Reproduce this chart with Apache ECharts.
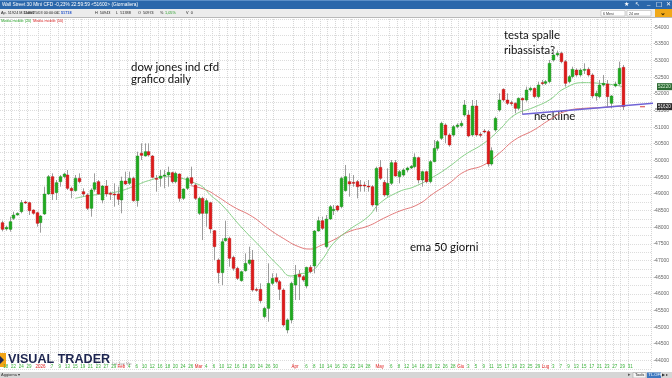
<!DOCTYPE html>
<html>
<head>
<meta charset="utf-8">
<title>Wall Street 30 Mini CFD</title>
<style>
  html, body { margin: 0; padding: 0; background: #fff; }
  #chart { width: 672px; height: 378px; }
</style>
<script src="https://cdn.jsdelivr.net/npm/echarts@6/dist/echarts.min.js"></script>
</head>
<body>
<div id="chart"></div>
<script>
// tick labels of the date axis, one per bar ('' = no label)
const decDays = ['17', '18', '19', '22', '23', '24', '26', '29', '30', '31']
const janDays = ['2026', '5', '6', '7', '8', '9', '12', '13', '14', '15', '16', '19', '20', '21', '22', '23', '26', '27', '28', '29', '30']
const febDays = ['Feb', '3', '4', '5', '6', '9', '10', '11', '12', '13', '16', '17', '18', '19', '20', '23', '24', '25', '26', '27']
const marDays = ['Mar', '3', '4', '5', '6', '9', '10', '11', '12', '13', '16', '17', '18', '19', '20', '23', '24', '25', '26', '27', '30', '31', '', '', '']
const aprDays = ['Apr', '2', '3', '6', '7', '8', '9', '10', '13', '14', '15', '16', '17', '20', '21', '22', '23', '24', '27', '28', '29', '30']
const mayDays = ['May', '4', '5', '6', '7', '8', '11', '12', '13', '14', '15', '18', '19', '20', '21', '22', '25', '26', '27', '28', '29']
const junDays = ['Giu', '2', '3', '4', '5', '8', '9', '10', '11', '12', '15', '16', '17', '18', '19', '22', '23', '24', '25', '26', '29', '30']
const julDays = ['Lug', '2', '3', '6', '7', '8', '9', '10', '13', '14', '15', '16', '17', '20', '21', '22', '23', '24', '27', '28', '29', '30', '31', '', '', '', '', '']
const monthNames = ['2026', 'Feb', 'Mar', 'Apr', 'May', 'Giu', 'Lug']

// daily bars: [open, close, low, high]
const candles = [
  [48140, 47940, 47880, 48200], [47950, 48000, 47900, 48050], [47940, 48170, 47870, 48320], [48270, 48370, 48220, 48470],
  [48370, 48420, 48350, 48450], [48470, 48740, 48420, 48820], [48760, 48740, 48700, 48800], [48740, 48500, 48370, 48770],
  [48520, 48420, 48380, 48540], [48440, 48120, 48020, 48470], [48140, 48340, 47840, 48370], [48400, 49000, 48370, 49220],
  [49000, 49520, 48970, 49570], [49520, 49000, 48820, 49620], [49040, 49340, 48820, 49420], [49370, 49520, 49220, 49570],
  [49520, 49600, 49470, 49640], [49570, 49170, 49120, 49720], [49170, 49100, 48870, 49220], [49100, 49470, 49070, 49570],
  [49470, 49370, 49320, 49620], [49070, 49000, 48920, 49170], [48970, 48570, 48520, 49020], [48570, 49120, 48320, 49170],
  [49140, 49340, 49070, 49620], [49370, 49000, 48970, 49420], [48820, 49240, 48720, 49270], [49240, 49000, 48920, 49420],
  [49020, 49000, 48820, 49070], [49000, 48970, 48620, 49320], [49000, 48840, 48670, 49220], [48820, 49390, 48420, 49520],
  [49390, 49300, 49270, 49670], [49320, 49470, 49270, 49670], [49470, 48800, 48770, 49520], [48800, 50140, 48620, 50270],
  [50220, 50160, 50020, 50520], [50140, 50270, 50120, 50520], [50270, 50170, 50120, 50520], [50140, 49500, 49470, 50170],
  [49470, 49440, 49070, 49570], [49470, 49540, 49220, 49720], [49540, 49570, 49170, 49720], [49570, 49650, 49220, 49820],
  [49640, 49370, 49320, 49670], [49370, 49620, 49320, 49670], [49600, 48870, 48770, 49620], [48870, 49150, 48820, 49170],
  [49170, 49470, 49120, 49520], [49490, 49320, 49270, 49820], [49270, 48870, 48820, 49320], [48420, 48870, 48370, 48920],
  [48870, 48420, 47620, 48920], [48420, 48800, 48020, 48870], [48740, 47950, 47820, 48770], [47900, 47420, 47020, 47920],
  [47020, 46640, 46320, 47070], [46640, 47570, 46270, 47670], [47600, 47670, 47570, 48200], [47670, 47070, 46820, 47720],
  [47100, 46770, 46700, 47150], [46770, 46470, 46420, 46820], [46400, 46670, 46370, 46700], [46700, 46920, 46670, 47220],
  [46920, 47020, 46870, 47420], [47020, 46120, 46070, 47320], [46140, 46120, 46070, 46200], [46140, 45800, 45720, 46320],
  [45320, 45570, 45270, 45620], [45570, 46320, 45170, 46920], [46320, 46470, 46270, 46620], [46490, 46370, 46320, 46620],
  [46370, 46140, 45820, 46420], [46120, 45070, 45020, 46170], [44920, 45220, 44820, 45270], [45220, 46320, 45120, 46370],
  [46270, 46570, 45820, 46870], [46590, 46520, 45820, 46720], [46520, 46420, 46370, 46570], [46240, 46800, 46170, 46820],
  [46800, 46670, 46620, 46870], [46840, 47890, 46620, 47920], [47890, 48200, 47870, 48320], [48200, 47970, 47920, 48320],
  [47420, 48250, 47370, 48370], [48250, 48620, 48220, 48670], [48500, 48540, 48370, 48670], [48640, 48520, 48470, 48670],
  [48620, 49470, 48570, 49520], [49100, 49520, 49070, 49870], [49370, 49300, 48920, 49620], [49350, 49330, 49220, 49570],
  [49370, 49220, 48870, 49420], [49270, 49250, 49070, 49420], [49270, 49260, 49070, 49370], [49240, 49230, 49070, 49420],
  [49220, 48670, 48620, 49270], [48670, 49770, 48470, 49820], [49800, 49470, 49420, 50020], [49350, 48970, 48920, 49420],
  [48970, 49320, 48920, 49770], [49320, 49940, 49270, 50020], [49940, 49540, 49520, 50020], [49520, 49670, 49320, 49720],
  [49570, 49720, 49520, 49770], [49720, 49780, 49650, 49820], [49780, 49830, 49750, 49870], [49820, 50100, 49770, 50220],
  [50090, 49420, 49320, 50120], [49420, 49670, 49220, 49700], [49670, 49370, 49320, 49700], [49370, 49970, 49320, 50020],
  [49970, 50370, 49950, 50620], [50370, 50570, 50300, 50620], [50670, 51120, 50620, 51170], [51070, 50770, 50520, 51120],
  [50770, 50470, 50420, 50820], [50770, 51020, 50720, 51070], [51020, 51070, 50970, 51120], [51050, 51120, 51000, 51200],
  [51370, 51670, 51320, 51820], [51370, 50740, 50700, 51520], [50770, 51640, 50720, 51820], [51640, 50770, 50720, 51820],
  [50790, 50770, 50700, 50850], [50890, 50870, 50820, 50950], [50870, 49900, 49820, 50920], [49900, 50300, 49850, 50400],
  [50920, 51270, 50870, 51320], [51520, 51820, 51470, 52020], [52140, 51820, 51770, 52170], [51820, 51720, 51670, 52020],
  [51740, 51730, 51650, 51800], [51720, 51570, 51420, 51750], [51570, 51870, 51520, 51900], [51870, 51820, 51390, 51900],
  [51820, 52120, 51770, 52220], [52120, 52170, 52070, 52220], [52170, 51920, 51870, 52200], [51920, 52270, 51870, 52370],
  [52340, 52320, 52270, 52420], [52320, 52370, 52270, 52420], [52370, 52920, 52320, 53020], [53020, 53170, 52970, 53370],
  [53170, 53220, 53120, 53300], [53220, 52970, 52920, 53270], [52970, 52320, 52220, 53020], [52370, 52520, 52320, 52570],
  [52520, 52740, 52470, 52820], [52720, 52570, 52520, 52770], [52570, 52720, 52520, 52770], [52720, 52740, 52600, 52920],
  [52740, 52570, 52520, 52800], [52570, 51940, 51870, 52620], [51940, 52020, 51800, 52100], [51920, 52270, 51870, 52420],
  [52270, 52320, 52220, 52570], [52300, 51920, 51620, 52420], [51720, 51940, 51570, 51970], [52240, 52300, 52200, 52370],
  [52300, 52770, 52250, 52970], [52800, 51620, 51520, 52870]
]

// moving averages: [bar index, value]
const ma20 = [
  [19, 48870], [22, 48940], [26, 49000], [30, 49070], [34, 49220], [38, 49400], [43, 49520], [47, 49460],
  [50, 49330], [52, 49220], [54, 48980], [57, 48680], [62, 48020], [67, 47420], [72, 46820], [75, 46540],
  [77, 46600], [80, 46670], [83, 47020], [86, 47520], [90, 47920], [95, 48320], [98, 48720], [103, 49070],
  [107, 49220], [112, 49520], [116, 49820], [120, 50170], [125, 50520], [129, 50920], [133, 51370], [138, 51600],
  [142, 51820], [146, 52170], [151, 52340], [155, 52320], [159, 52270], [161, 52220]
]
const ma50 = [
  [49, 49250], [53, 49120], [56, 48920], [60, 48620], [65, 48320], [69, 47970], [73, 47670], [77, 47420],
  [80, 47350], [83, 47470], [86, 47620], [90, 47870], [95, 48040], [99, 48270], [103, 48480], [108, 48690],
  [112, 49020], [116, 49320], [120, 49670], [125, 49870], [129, 50220], [133, 50620], [138, 50920], [142, 51220],
  [146, 51470], [151, 51570], [155, 51590], [159, 51630], [161, 51640]
]
// hand drawn neckline
const neckline = [[135, 51390], [173, 51760]]

const labels = [].concat(decDays, janDays, febDays, marDays, aprDays, mayDays, junDays, julDays)
const bars = candles.map((d, i) => [i, d[0], d[1], d[2], d[3]])

const chart = echarts.init(document.getElementById('chart'))

function renderCandle(params, api) {
  const i = api.value(0)
  const o = api.value(1)
  const c = api.value(2)
  const pO = api.coord([i, o])
  const pC = api.coord([i, c])
  const pL = api.coord([i, api.value(3)])
  const pH = api.coord([i, api.value(4)])
  const w = api.size([1, 0])[0] * 0.72
  const x = Math.round(pO[0]) + 0.5
  const up = c >= o
  const top = Math.min(pO[1], pC[1])
  const h = Math.max(Math.abs(pO[1] - pC[1]), 1)
  return {
    type: 'group',
    children: [
      { type: 'line', shape: { x1: x, y1: pH[1], x2: x, y2: pL[1] }, style: { stroke: '#9c9c9c', lineWidth: 1 } },
      {
        type: 'rect',
        shape: { x: x - w / 2, y: top, width: w, height: h },
        style: { fill: up ? '#1faa1f' : '#de1a1a', stroke: up ? '#178a17' : '#b81414', lineWidth: 0.4 },
      },
    ],
  }
}

const isMonth = v => monthNames.indexOf(v) >= 0
// show every other day label, months always, never right next to a month
const showTick = idx => {
  const v = labels[idx]
  if (!v) return false
  if (isMonth(v)) return true
  if (isMonth(labels[idx - 1] || '') || isMonth(labels[idx + 1] || '')) return false
  return idx % 2 === 1
}

chart.setOption({
  animation: false,
  backgroundColor: '#fff',
  grid: { left: -2, top: 18.97, width: 654, height: 350.07 },
  xAxis: {
    type: 'category',
    data: labels,
    boundaryGap: true,
    axisLine: { show: false },
    axisTick: { show: false },
    axisLabel: {
      interval: idx => showTick(idx),
      margin: -5,
      fontSize: 4.5,
      fontFamily: 'Liberation Sans',
      color: v => (isMonth(v) ? '#e02020' : '#3cb43c'),
    },
    splitLine: {
      show: true,
      interval: idx => showTick(idx),
      lineStyle: { color: '#d6d6d6', type: 'dotted', width: 1 },
    },
  },
  yAxis: {
    type: 'value',
    position: 'right',
    min: 43750,
    max: 54250,
    interval: 250,
    axisLine: { show: false },
    axisTick: { show: false },
    axisLabel: {
      margin: 2,
      fontSize: 5,
      fontFamily: 'Liberation Sans',
      color: '#666',
      formatter: v => (v % 500 === 0 && v >= 44000 && v <= 54000 ? '-' + v : ''),
    },
    splitLine: { show: true, lineStyle: { color: '#dcdcdc', type: 'dotted', width: 1 } },
  },
  series: [
    {
      name: 'Media mobile (50)',
      type: 'line',
      data: ma50,
      showSymbol: false,
      smooth: true,
      lineStyle: { color: '#e27878', width: 1 },
      z: 2,
    },
    {
      name: 'Media mobile (20)',
      type: 'line',
      data: ma20,
      showSymbol: false,
      smooth: true,
      lineStyle: { color: '#86cf86', width: 1 },
      z: 2,
    },
    {
      type: 'custom',
      data: bars,
      encode: { x: 0, y: [1, 2, 3, 4] },
      renderItem: renderCandle,
      z: 3,
    },
    {
      name: 'neckline',
      type: 'line',
      data: neckline,
      showSymbol: false,
      lineStyle: { color: '#6f63d6', width: 1.5 },
      z: 4,
    },
  ],
})

// value boxes on the price scale
const last = candles[candles.length - 1][1]
const ma20Last = ma20[ma20.length - 1][1]
const yLast = chart.convertToPixel({ yAxisIndex: 0 }, last)
const yMa = chart.convertToPixel({ yAxisIndex: 0 }, ma20Last)

const txt = (x, y, text, fill, size, extra) => ({
  type: 'text',
  left: x,
  top: y,
  style: Object.assign({ text, fill, fontSize: size, fontFamily: 'Liberation Sans' }, extra || {}),
})
const note = (x, y, text) => txt(x, y, text, '#111', 11.4, { fontFamily: 'Lato' })

chart.setOption({
  graphic: [
    // title bar
    { type: 'rect', shape: { x: 0, y: 0, width: 672, height: 9 }, style: { fill: '#2a67ab' } },
    { type: 'rect', shape: { x: 0, y: 0, width: 672, height: 1 }, style: { fill: '#5b8fc8' } },
    txt(2, 2.2, 'Wall Street 30 Mini CFD -0,23% 22:59:59 <51600> (Giornaliera)', '#fff', 4.8),
    txt(624, 1.5, '★', '#fff', 6),
    txt(635, 1.5, '↖', '#fff', 6),
    txt(647, 0.5, '_', '#fff', 6),
    txt(656, 1.5, '☐', '#fff', 6.5),
    txt(666, 1.5, '✕', '#fff', 6),
    // info bar
    { type: 'rect', shape: { x: 0, y: 9, width: 672, height: 8 }, style: { fill: '#ececec' } },
    { type: 'rect', shape: { x: 0, y: 17, width: 672, height: 1 }, style: { fill: '#b9b9b9' } },
    txt(1, 11.3, 'Ap. 51924 M.51898', '#222', 3.8),
    txt(24, 11.3, 'Data 25/03 00:00:00', '#222', 3.8),
    txt(57, 11.3, 'C', '#222', 3.8),
    txt(61, 11.3, '51718', '#1e4fc8', 3.8, { fontWeight: 'bold' }),
    txt(95, 11.3, 'H  50943', '#222', 3.8),
    txt(116, 11.3, 'L  51388', '#222', 3.8),
    txt(138, 11.3, 'O  50974', '#222', 3.8),
    txt(160, 11.3, '%', '#222', 3.8),
    txt(165, 11.3, '1,05%', '#1f9a1f', 3.8),
    txt(186, 11.3, 'V  0', '#222', 3.8),
    { type: 'rect', shape: { x: 601, y: 10.5, width: 24, height: 5.5 }, style: { fill: '#fff', stroke: '#aaa', lineWidth: 0.5 } },
    txt(603, 11.5, '6 Mesi', '#333', 3.6),
    { type: 'rect', shape: { x: 627, y: 10.5, width: 24, height: 5.5 }, style: { fill: '#fff', stroke: '#aaa', lineWidth: 0.5 } },
    txt(629, 11.5, '24 ore', '#333', 3.6),
    { type: 'rect', shape: { x: 655, y: 9, width: 17, height: 8 }, style: { fill: '#f0a818' } },
    txt(660, 9.5, '⌄', '#3a2a00', 7, { fontWeight: 'bold' }),
    // legend
    txt(1, 19.2, 'Media mobile (20)', '#2fa52f', 3.8),
    txt(33, 19.2, 'Media mobile (50)', '#d82a2a', 3.8),
    // price boxes
    { type: 'rect', shape: { x: 657, y: yMa - 3.5, width: 15, height: 7 }, style: { fill: '#2e6b35' } },
    txt(658, yMa - 2.3, String(Math.round(ma20Last)), '#d8f5d8', 4.6),
    { type: 'rect', shape: { x: 640, y: yLast - 0.7, width: 5, height: 1.4 }, style: { fill: '#e07070' } },
    { type: 'rect', shape: { x: 657, y: yLast - 3.5, width: 15, height: 7 }, style: { fill: '#2a2a2a' } },
    txt(658, yLast - 2.3, String(last), '#fff', 4.6),
    // annotations
    note(131, 62, 'dow jones ind cfd'),
    note(131, 74, 'grafico daily'),
    note(504, 30, 'testa spalle'),
    note(504, 45, 'ribassista?'),
    note(534, 111, 'neckline'),
    note(410, 242, 'ema 50 giorni'),
    // logo
    { type: 'rect', shape: { x: 0, y: 353, width: 6, height: 14 }, style: { fill: '#f2a416' } },
    { type: 'polygon', shape: { points: [[0, 356], [4, 360], [0, 364]] }, style: { fill: '#1d2550' } },
    txt(8, 353, 'VISUAL TRADER', '#1d2550', 12.6, { fontWeight: 'bold' }),
    txt(112, 362, 'Dal Tuoi Mio', '#999', 3.5),
    // status bar
    { type: 'rect', shape: { x: 0, y: 372, width: 672, height: 6 }, style: { fill: '#d6d6d6' } },
    txt(1, 373, 'Aggiorna ▾', '#333', 4),
    txt(628, 372.5, '▸', '#555', 4.5),
    { type: 'rect', shape: { x: 633, y: 372.5, width: 13, height: 5.5 }, style: { fill: '#f4f4f4', stroke: '#999', lineWidth: 0.5 } },
    txt(635, 373.3, 'Tools', '#222', 4),
    { type: 'rect', shape: { x: 647, y: 372.5, width: 14, height: 5.5 }, style: { fill: '#3d78c0' } },
    txt(648.5, 373.3, 'TL.OFF', '#fff', 4),
    txt(662, 372.5, '▶ ▸', '#333', 4),
  ],
})
</script>
</body>
</html>
